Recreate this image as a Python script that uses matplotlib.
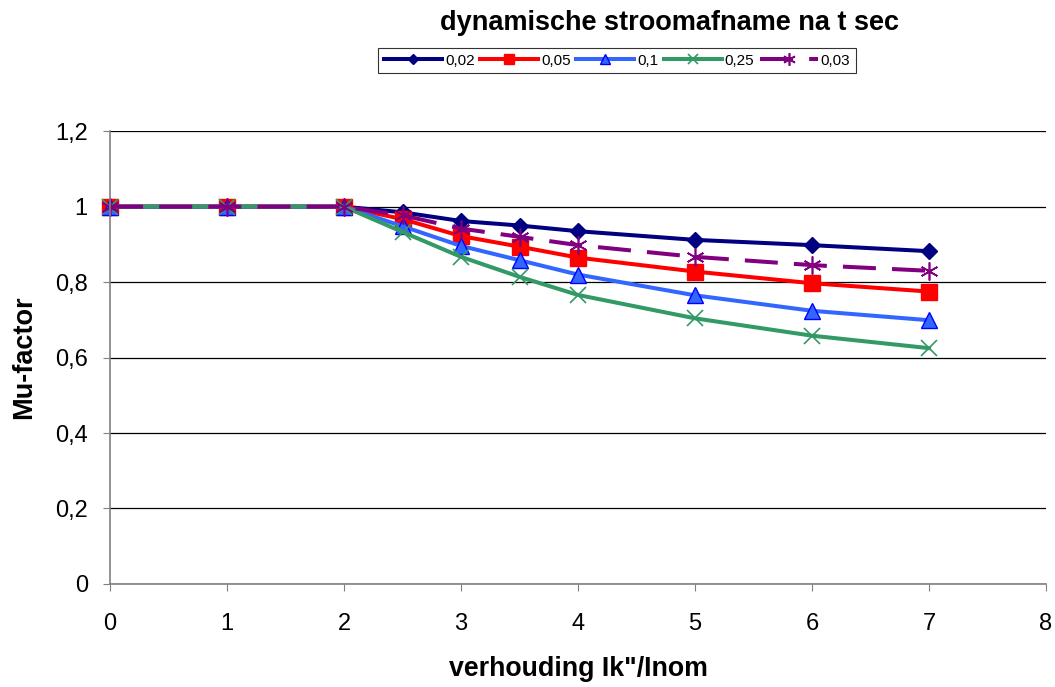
import matplotlib
matplotlib.use("Agg")
import matplotlib.pyplot as plt
from matplotlib.ticker import FuncFormatter

plt.rcParams["font.family"] = ["Liberation Sans", "DejaVu Sans"]

# data
x = [0, 1, 2, 2.5, 3, 3.5, 4, 5, 6, 7]
mu_002 = [1, 1, 1, 0.985, 0.962, 0.950, 0.935, 0.912, 0.898, 0.882]
mu_005 = [1, 1, 1, 0.967, 0.922, 0.894, 0.865, 0.828, 0.797, 0.775]
mu_01 = [1, 1, 1, 0.948, 0.896, 0.858, 0.820, 0.765, 0.724, 0.699]
mu_025 = [1, 1, 1, 0.933, 0.867, 0.814, 0.766, 0.704, 0.658, 0.625]
mu_003 = [1, 1, 1, 0.977, 0.942, 0.920, 0.898, 0.867, 0.845, 0.830]
labels = ["0,02", "0,05", "0,1", "0,25", "0,03"]

fig = plt.figure(figsize=(10.55, 6.87), dpi=100)
ax = fig.add_axes([0.1043, 0.15, 0.8872, 0.659])

lw = 2.9
ax.plot(x, mu_002, color="#000080", lw=lw, marker="D", ms=8, clip_on=False, label=labels[0])
ax.plot(x, mu_005, color="#FF0000", lw=lw, marker="s", ms=11, clip_on=False, label=labels[1])
ax.plot(x, mu_01, color="#3366FF", lw=lw, marker="^", ms=11, clip_on=False,
        mfc="#3366FF", mec="#0000FF", label=labels[2])
ax.plot(x, mu_025, color="#339966", lw=lw, marker="x", ms=11, mew=1.2, clip_on=False,
        label=labels[3])
ax.plot(x, mu_003, color="#800080", lw=lw, ls=(0, (8.2, 4)), marker=(6, 2, 0), ms=13,
        mew=1.2, clip_on=False, label=labels[4])

ax.set_xlim(0, 8)
ax.set_ylim(0, 1.2)
ax.set_xticks(range(0, 9))
ax.set_yticks([0, 0.2, 0.4, 0.6, 0.8, 1.0, 1.2])
ax.yaxis.set_major_formatter(FuncFormatter(lambda v, p: ("%g" % round(v, 1)).replace(".", ",")))
ax.grid(axis="y", color="black", lw=0.9)
ax.set_axisbelow(True)
for s in ["top", "right"]:
    ax.spines[s].set_visible(False)
for s in ["left", "bottom"]:
    ax.spines[s].set_color("#808080")
    ax.spines[s].set_linewidth(1.2)
ax.tick_params(labelsize=17, direction="out", length=5, color="#808080")
ax.tick_params(axis="x", pad=16)
ax.tick_params(axis="y", pad=11)

ax.set_xlabel("verhouding Ik\"/Inom", fontsize=19.3, fontweight="bold", labelpad=15)
ax.set_ylabel("Mu-factor", fontsize=19.5, fontweight="bold", labelpad=13)
fig.text(0.635, 0.967, "dynamische stroomafname na t sec", ha="center", va="center",
         fontsize=19.5, fontweight="bold")

leg = ax.legend(loc="center", bbox_to_anchor=(0.5417, 1.156), ncol=5, fontsize=11,
                frameon=True, fancybox=False, edgecolor="black", handlelength=3.8,
                handletextpad=0.2, columnspacing=0.35, borderpad=0.35, markerscale=0.7)
leg.get_frame().set_linewidth(0.8)

fig.savefig("out.png", dpi=100)
